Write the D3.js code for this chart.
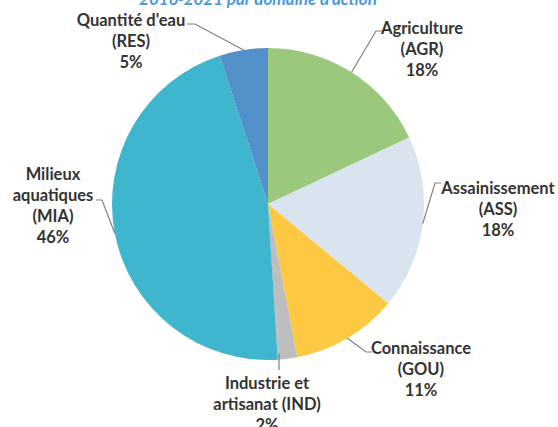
<!DOCTYPE html>
<html>
<head>
<meta charset="utf-8">
<script src="https://cdn.jsdelivr.net/npm/d3@7"></script>
<style>
  html, body { margin: 0; padding: 0; background: #fff; }
  svg { display: block; }
</style>
</head>
<body>
<svg id="chart"></svg>
<script>
// Data
const codes = ["AGR", "ASS", "GOU", "IND", "MIA", "RES"];
const domains = ["Agriculture", "Assainissement", "Connaissance", "Industrie et artisanat", "Milieux aquatiques", "Quantité d'eau"];
const shares = [18, 18, 11, 2, 46, 5];
const colors = ["#9bc87c", "#d9e4ef", "#fec942", "#bebebe", "#40b5ce", "#5190c8"];
const title = "2016-2021 par domaine d'action";

const width = 558;
const height = 427;
const cx = 268;
const cy = 204;
const radius = 156;
const fontSize = 16.5;
const lineGap = 21;

// label layout: text centre, first line centre y, how to break the name, leader path
const labelLayout = {
  AGR: { x: 422, y: 28, lines: ["Agriculture"], elbow: [376, 31], end: [382, 31] },
  ASS: { x: 498, y: 188, lines: ["Assainissement"], elbow: [435, 183], end: [441, 183] },
  GOU: { x: 421, y: 348, lines: ["Connaissance"], elbow: [366, 352], end: [372, 352] },
  IND: { x: 267, y: 383, lines: ["Industrie et", "artisanat"], end: [279, 370], vertical: true, codeInline: true },
  MIA: { x: 53, y: 174, lines: ["Milieux", "aquatiques"], elbow: [102, 200], end: [96, 200] },
  RES: { x: 131, y: 20, lines: ["Quantité d'eau"], elbow: [195, 24], end: [187, 24] }
};

const svg = d3.select("#chart").attr("width", width).attr("height", height);

// Title (cut off at the top as in the source image)
svg.append("text")
  .attr("x", 258)
  .attr("y", 5)
  .attr("text-anchor", "middle")
  .attr("font-family", "Lato, sans-serif")
  .attr("font-size", 17)
  .attr("font-weight", "bold")
  .attr("font-style", "italic")
  .attr("fill", "#4a9ad8")
  .text(title);

const pie = d3.pie().sort(null).value(d => d.value);
const slices = pie(codes.map((c, i) => ({ code: c, name: domains[i], value: shares[i], color: colors[i] })));

const arc = d3.arc().innerRadius(0).outerRadius(radius);
const edge = d3.arc().innerRadius(radius).outerRadius(radius);

const g = svg.append("g").attr("transform", `translate(${cx},${cy})`);

g.selectAll("path.slice")
  .data(slices)
  .join("path")
  .attr("class", "slice")
  .attr("d", arc)
  .attr("fill", d => d.data.color);

// Leader lines
slices.forEach(d => {
  const lay = labelLayout[d.data.code];
  let start = edge.centroid(d);
  start = [start[0] + cx, start[1] + cy];
  if (lay.vertical) {
    const dx = lay.end[0] - cx;
    start = [lay.end[0], cy + Math.sqrt(radius * radius - dx * dx) - 6];
  }
  const pts = [start];
  if (lay.elbow) pts.push(lay.elbow);
  pts.push(lay.end);
  svg.append("path")
    .attr("d", d3.line()(pts))
    .attr("fill", "none")
    .attr("stroke", "#808080")
    .attr("stroke-width", 1.2);
});

// Labels
slices.forEach(d => {
  const lay = labelLayout[d.data.code];
  const lines = lay.lines.slice();
  if (lay.codeInline) {
    lines[lines.length - 1] += ` (${d.data.code})`;
  } else {
    lines.push(`(${d.data.code})`);
  }
  lines.push(`${d.data.value}%`);
  const t = svg.append("text")
    .attr("text-anchor", "middle")
    .attr("font-family", "Lato, sans-serif")
    .attr("font-size", fontSize)
    .attr("font-weight", "bold")
    .attr("fill", "#333");
  lines.forEach((ln, i) => {
    t.append("tspan")
      .attr("x", lay.x)
      .attr("y", lay.y + i * lineGap + fontSize * 0.36)
      .text(ln);
  });
});
</script>
</body>
</html>
